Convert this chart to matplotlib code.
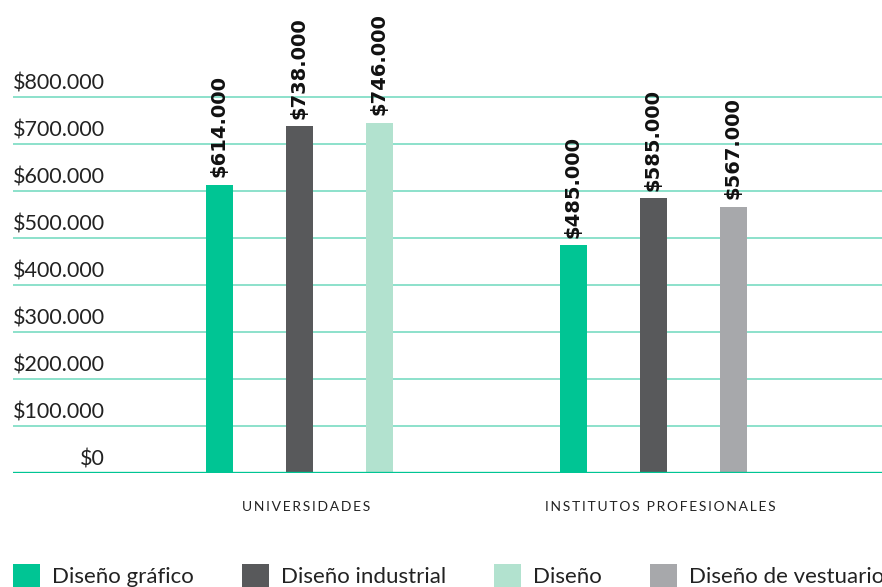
import numpy as np
import matplotlib
matplotlib.use("Agg")
import matplotlib.pyplot as plt

plt.rcParams['font.family'] = ['Lato', 'DejaVu Sans']

# data
groups = ["UNIVERSIDADES", "INSTITUTOS PROFESIONALES"]
series = ["Diseño gráfico", "Diseño industrial", "Diseño", "Diseño de vestuario"]
slot = [0, 1, 2, 2]          # position of each series inside a group
values = [
    [614000, 485000],
    [738000, 585000],
    [746000, None],
    [None, 567000],
]
colors = ["#00c594", "#58595b", "#b2e2cf", "#a7a8ab"]
yticks = [0, 100000, 200000, 300000, 400000, 500000, 600000, 700000, 800000]


def money(v):
    return "$" + f"{v:,.0f}".replace(",", ".")


fig = plt.figure(figsize=(8.82, 5.87), dpi=100)
ax = fig.add_axes([13 / 882, 1 - 473.3 / 587, 1 - 13 / 882, 473.3 / 587])

off = 80 / 354
w = 27 / 354
x = np.arange(len(groups))

for ymark in yticks[1:]:
    ax.axhline(ymark, color="#6ed9bd", lw=1.1, zorder=0)
ax.axhline(0, color="#00c594", lw=2.4, zorder=3)

for s, name in enumerate(series):
    xs, hs = [], []
    for g in range(len(groups)):
        v = values[s][g]
        if v is None:
            continue
        xs.append(x[g] + (slot[s] - 1) * off)
        hs.append(v)
    bars = ax.bar(xs, hs, width=w, color=colors[s], label=name, zorder=2)
    for b, v in zip(bars, hs):
        ax.annotate(money(v), (b.get_x() + b.get_width() / 2, v),
                    xytext=(0, 5.5), textcoords="offset points",
                    rotation=90, ha="center", va="bottom",
                    fontsize=14, fontweight="bold", family="DejaVu Sans",
                    color="#111111", annotation_clip=False)

for t in yticks:
    ax.annotate(money(t), (0.106, t), xycoords=("axes fraction", "data"),
                xytext=(0, 3), textcoords="offset points",
                ha="right", va="bottom", fontsize=15.5, color="#222222")

ax.set_xlim(-286 / 354, 583 / 354)
ax.set_ylim(0, 1007000)
ax.set_yticks([])
spaced = ["\u2009".join(list(g)) for g in groups]
ax.set_xticks(x + 0.02)
ax.set_xticklabels(spaced, fontsize=10, color="#222222")
ax.tick_params(axis="x", length=0, pad=20)
for sp in ax.spines.values():
    sp.set_visible(False)

fig.legend(loc="lower left", bbox_to_anchor=(13 / 882, 0.0), ncol=4,
           frameon=False, fontsize=16, handlelength=1.22, handleheight=1.22,
           handletextpad=0.55, columnspacing=2.15, borderpad=0,
           borderaxespad=0, labelcolor="#222222")

fig.savefig("out.png", dpi=100)
